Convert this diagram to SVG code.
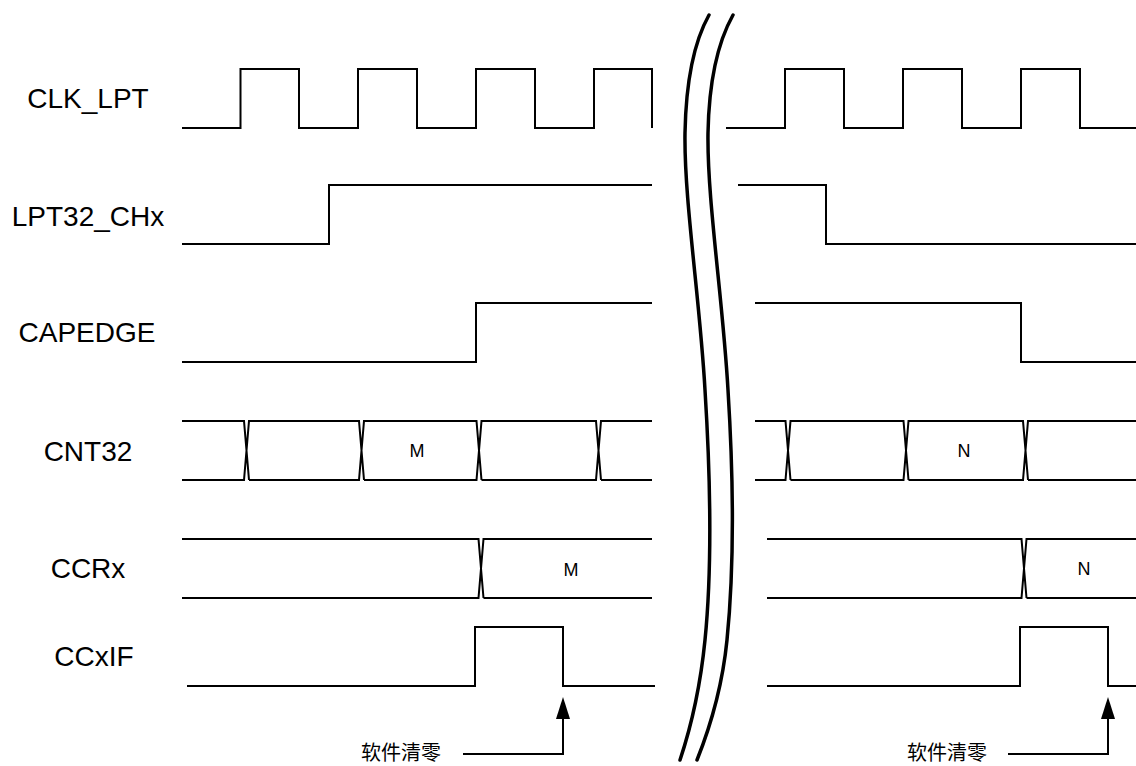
<svg xmlns="http://www.w3.org/2000/svg" width="1136" height="766" viewBox="0 0 1136 766">
<style>
.sig{fill:none;stroke:#000;stroke-width:2;stroke-linejoin:miter}
.brk{fill:none;stroke:#000;stroke-width:3.5;stroke-linecap:round}
.lbl{font-family:"Liberation Sans",Arial,sans-serif;font-size:28px;fill:#000;text-anchor:middle}
.val{font-family:"Liberation Sans",Arial,sans-serif;font-size:18px;fill:#000;text-anchor:middle}
.cn{font-family:"Noto Sans CJK SC",sans-serif;font-size:20px;fill:#000}
</style>
<defs>
<marker id="ah" viewBox="0 0 22 14" refX="19" refY="7" markerWidth="22" markerHeight="14" markerUnits="userSpaceOnUse" orient="auto">
<polygon points="0,0 22,7 0,14" fill="#000"/>
</marker>
</defs>
<rect width="1136" height="766" fill="#fff"/>

<g id="label-clk"><text class="lbl" x="88" y="108">CLK_LPT</text></g>
<g id="label-lpt32"><text class="lbl" x="88" y="226">LPT32_CHx</text></g>
<g id="label-capedge"><text class="lbl" x="87" y="342">CAPEDGE</text></g>
<g id="label-cnt32"><text class="lbl" x="88" y="461">CNT32</text></g>
<g id="label-ccrx"><text class="lbl" x="88" y="578">CCRx</text></g>
<g id="label-ccxif"><text class="lbl" x="94" y="666">CCxIF</text></g>

<g id="clk_lpt">
<path class="sig" d="M182,128 H240.5 V69 H299 V128 H358 V69 H417 V128 H476 V69 H535 V128 H594 V69 H652 V128"/>
<path class="sig" d="M726,128 H785 V69 H844 V128 H903 V69 H962 V128 H1021 V69 H1080 V128 H1136"/>
</g>

<g id="lpt32_chx">
<path class="sig" d="M182,244 H329 V185 H652"/>
<path class="sig" d="M738,185 H826 V244 H1136"/>
</g>

<g id="capedge">
<path class="sig" d="M182,362 H476 V303 H652"/>
<path class="sig" d="M755,303 H1021 V362 H1136"/>
</g>

<g id="cnt32">
<path class="sig" d="M182,421 H244 L249,480 M182,480 H244 L249,421 H359 L364,480 M249,480 H359 L364,421 H476.5 L481.5,480 M364,480 H476.5 L481.5,421 H596 L601,480 M481.5,480 H596 L601,421 H652 M601,480 H652"/>
<text class="val" x="417" y="457">M</text>
<path class="sig" d="M755,421 H785.5 L790.5,480 M755,480 H785.5 L790.5,421 H903.5 L908.5,480 M790.5,480 H903.5 L908.5,421 H1023 L1028,480 M908.5,480 H1023 L1028,421 H1136 M1028,480 H1136"/>
<text class="val" x="964" y="457">N</text>
</g>

<g id="ccrx">
<path class="sig" d="M182,539 H478.5 L483.5,598 M182,598 H478.5 L483.5,539 H652 M483.5,598 H652"/>
<text class="val" x="571" y="576">M</text>
<path class="sig" d="M767,539 H1021.5 L1026.5,598 M767,598 H1021.5 L1026.5,539 H1136 M1026.5,598 H1136"/>
<text class="val" x="1084" y="575">N</text>
</g>

<g id="ccxif">
<path class="sig" d="M187,686 H475 V627 H563 V686 H655"/>
<path class="sig" d="M767,686 H1020 V627 H1108 V686 H1136"/>
</g>

<g id="break">
<path class="brk" d="M709,15 C695,40 686,80 685,133 C684,200 700,300 705,390 C710,470 713,560 705,640 C700,690 690,730 680,760"/>
<path class="brk" d="M733,15 C719,40 709,80 708,133 C707,200 723,300 728,390 C733,470 735,560 727,640 C722,690 709,730 697,760"/>
</g>

<g id="clear-left">
<text class="cn" x="361" y="760">软件清零</text>
</g>
<g id="clear-right">
<text class="cn" x="907" y="760">软件清零</text>
</g>

<g id="connectors">
<path class="sig" d="M463,754 H563 V700" marker-end="url(#ah)"/>
<path class="sig" d="M1008,754 H1108 V700" marker-end="url(#ah)"/>
</g>
</svg>
